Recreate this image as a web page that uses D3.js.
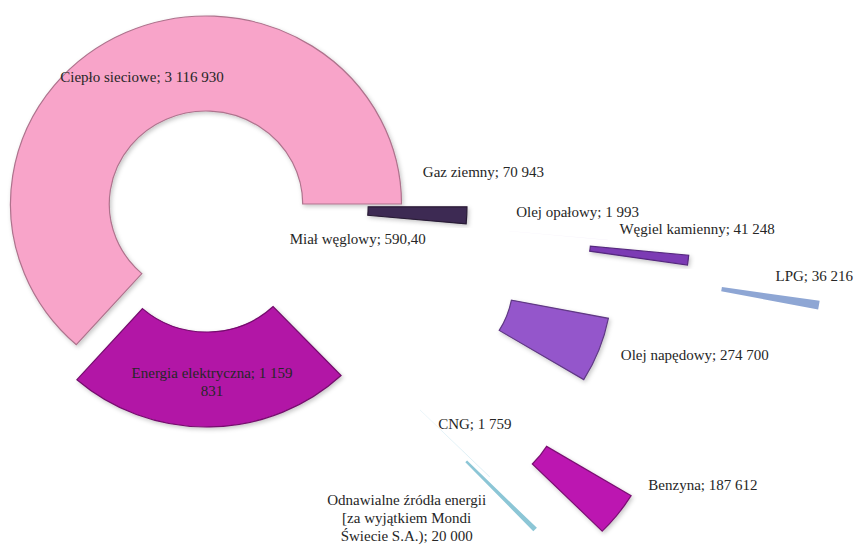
<!DOCTYPE html>
<html>
<head>
<meta charset="utf-8">
<script src="https://cdn.jsdelivr.net/npm/d3@7/dist/d3.min.js"></script>
<style>
  html, body { margin: 0; padding: 0; background: #ffffff; }
  svg { display: block; }
  text { font-family: "Liberation Serif", "DejaVu Serif", serif; font-size: 15px; fill: #262626; }
</style>
</head>
<body>
<svg id="chart" width="860" height="552"></svg>
<script>
// ---- data ----
const categories = [
  "Ciepło sieciowe",
  "Gaz ziemny",
  "Miał węglowy",
  "Olej opałowy",
  "Węgiel kamienny",
  "LPG",
  "Olej napędowy",
  "Benzyna",
  "CNG",
  "Odnawialne źródła energii [za wyjątkiem Mondi Świecie S.A.)",
  "Energia elektryczna"
];
const values = [3116930, 70943, 590.40, 1993, 41248, 36216, 274700, 187612, 1759, 20000, 1159831];
const valueLabels = ["3 116 930", "70 943", "590,40", "1 993", "41 248", "36 216", "274 700", "187 612", "1 759", "20 000", "1 159 831"];

// ---- styles ----
const colors = ["#F8A4C9", "#3E2A52", "#F4F0F8", "#F6F2FA", "#7B3BB4", "#8EA6D4", "#9457CB", "#BC17B1", "#CFE8F1", "#8CC6D6", "#B214A6"];
const strokeDark = [1.0, 1.2, 0, 0, 1.0, 0, 1.2, 1.2, 0, 0, 1.2];
const explode = [0, 63, 63, 200, 279, 410, 217, 315, 198, 266, 35];
const labelShift = [[-4, 1], [66, -41], [-59, 16], [19, -24], [58, -26], [44, -21], [142, 22], [124, 0], [20, -20], [-94, 22], [3, 2]];

const W = 860, H = 552;
const cx = 206, cy = 204, sx = 1.04;
const R = 188, r = 93;

const svg = d3.select("#chart");
const defs = svg.append("defs");
const f = defs.append("filter").attr("id", "shadow").attr("x", "-20%").attr("y", "-20%").attr("width", "140%").attr("height", "140%");
f.append("feDropShadow").attr("dx", 1.5).attr("dy", 2).attr("stdDeviation", 2).attr("flood-color", "#000").attr("flood-opacity", 0.22);

const total = d3.sum(values);
const start = Math.PI / 2 - 2 * Math.PI * values[0] / total;
const pie = d3.pie().sort(null).value(d => d.v).startAngle(start).endAngle(start + 2 * Math.PI);
const data = categories.map((c, i) => ({ c, v: values[i], i }));
const arcs = pie(data);
const arc = d3.arc().innerRadius(r).outerRadius(R);

const g = svg.append("g").attr("transform", `translate(${cx},${cy}) scale(${sx},1)`);

function off(a) {
  const m = (a.startAngle + a.endAngle) / 2;
  const d = explode[a.data.i];
  return [Math.sin(m) * d, -Math.cos(m) * d];
}

g.selectAll("path.slice").data(arcs).join("path")
  .attr("class", "slice")
  .attr("d", arc)
  .attr("transform", a => { const o = off(a); return `translate(${o[0]},${o[1]})`; })
  .attr("fill", a => colors[a.data.i])
  .attr("stroke", a => strokeDark[a.data.i] > 0 ? d3.color(colors[a.data.i]).darker(strokeDark[a.data.i]) : "none")
  .attr("stroke-width", 1.2)
  .attr("vector-effect", "non-scaling-stroke")
  .attr("filter", a => strokeDark[a.data.i] > 0 ? "url(#shadow)" : null);

// ---- labels ----
const maxW = 172;
const lineH = 18;
arcs.forEach(a => {
  const i = a.data.i;
  const o = off(a);
  const c = arc.centroid(a);
  const x = cx + sx * (c[0] + o[0]) + labelShift[i][0];
  const y = cy + (c[1] + o[1]) + labelShift[i][1];
  const full = categories[i] + "; " + valueLabels[i];
  const words = full.split(" ");
  const t = svg.append("text").attr("text-anchor", "middle");
  let lines = [], cur = "";
  const probe = svg.append("text").attr("visibility", "hidden");
  words.forEach(w => {
    const tryS = cur ? cur + " " + w : w;
    probe.text(tryS);
    if (probe.node().getComputedTextLength() > maxW && cur) { lines.push(cur); cur = w; }
    else cur = tryS;
  });
  lines.push(cur);
  probe.remove();
  const y0 = y - (lines.length - 1) * lineH / 2;
  lines.forEach((ln, k) => {
    t.append("tspan").attr("x", x).attr("y", y0 + k * lineH).attr("dy", "0.35em").text(ln);
  });
});
</script>
</body>
</html>
